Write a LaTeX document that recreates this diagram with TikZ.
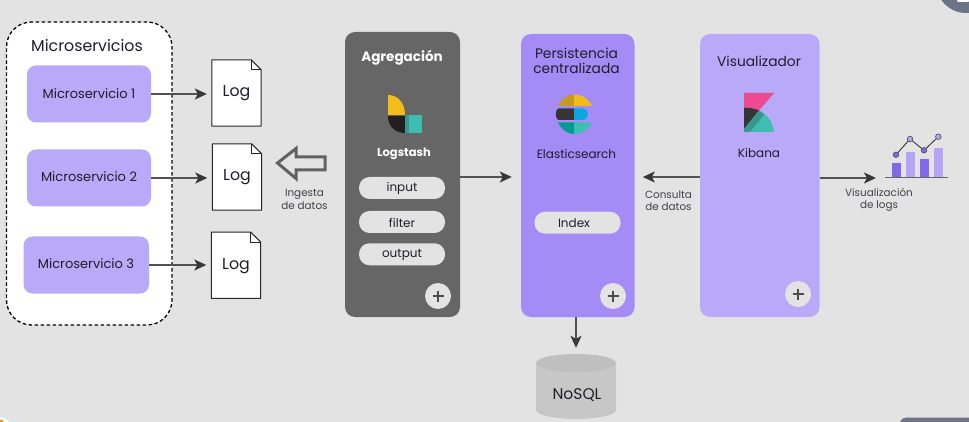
\documentclass[tikz,border=0pt]{standalone}
\usepackage{fontspec}
\setmainfont{Poppins}
\usetikzlibrary{arrows.meta,calc}
\definecolor{bgc}{HTML}{E3E3E3}
\definecolor{lav}{HTML}{B9A9F9}
\definecolor{pur}{HTML}{A48BF6}
\definecolor{gr}{HTML}{666666}
\definecolor{ink}{HTML}{1E1E2A}
\definecolor{ylw}{HTML}{F3BD19}
\definecolor{ylwd}{HTML}{C69A24}
\definecolor{tl}{HTML}{3EBEB0}
\definecolor{tld}{HTML}{37978C}
\definecolor{tlx}{HTML}{019B8F}
\definecolor{blk}{HTML}{231F20}
\definecolor{dk}{HTML}{353535}
\definecolor{blu}{HTML}{0DA6E0}
\definecolor{pnk}{HTML}{EE4A8F}
\definecolor{barD}{HTML}{7F69E8}
\definecolor{barL}{HTML}{B3A5F3}
\definecolor{slate}{HTML}{6D7488}
\tikzset{
  box/.style={rectangle,inner sep=0pt,text=ink},
  svc/.style={box,fill=lav,rounded corners=9pt,minimum width=124pt,minimum height=57pt},
  panel/.style={box,rounded corners=10pt,minimum height=283pt},
  pill/.style={box,fill=bgc,rounded corners=10.5pt,minimum width=86pt,minimum height=22pt},
  plusbtn/.style={circle,fill=bgc,inner sep=0pt,minimum size=26pt},
  lbl/.style={inner sep=0pt,text=ink,align=center,yshift=-0.5pt},
  t16/.style={lbl,font=\fontsize{15.8}{17}\selectfont},
  t14/.style={lbl,font=\fontsize{13.8}{15.2}\selectfont},
  t13/.style={lbl,font=\fontsize{13}{14}\selectfont},
  t12/.style={lbl,font=\fontsize{12}{14}\selectfont},
  t10/.style={lbl,text=ink!85,font=\fontsize{10.4}{12.2}\selectfont},
  flow/.style={draw=black!68,line width=1.7pt,-{Stealth[length=12pt,width=11pt,inset=3pt,color=black!78]}},
}
\newcommand{\logdoc}[3]{%
  \node[box,minimum width=49pt,minimum height=66pt] (#1) at (#2,#3) {};
  \fill[white] (#1.north west) -- ($(#1.north east)+(-10,0)$) -- ($(#1.north east)+(0,10)$) -- (#1.south east) -- (#1.south west) -- cycle;
  \draw[black!85,line width=1pt,line join=round] (#1.north west) -- ($(#1.north east)+(-10,0)$) -- ($(#1.north east)+(0,10)$) -- (#1.south east) -- (#1.south west) -- cycle;
  \draw[black!85,line width=.9pt] ($(#1.north east)+(-10,0)$) -- ($(#1.north east)+(-10,10)$) -- ($(#1.north east)+(0,10)$);
  \node[t16] at (#2,#3) {Log};}
\newcommand{\plusmark}[1]{%
  \draw[black!70,line width=1.4pt] ($(#1)+(-5.5,0)$) -- ($(#1)+(5.5,0)$) ($(#1)+(0,-5.5)$) -- ($(#1)+(0,5.5)$);}
\begin{document}
\begin{tikzpicture}[x=1pt,y=-1pt]
\useasboundingbox (0,0) rectangle (969,422);
\clip (0,0) rectangle (969,422);
\fill[bgc] (0,0) rectangle (969,422);
% stray corner marks
\fill[slate] (966,-17) circle (30);
\fill[white,rounded corners=1pt] (957,-3) rectangle (969,2);
\fill[slate,rounded corners=6pt] (900,417.7) rectangle (975,440);
\fill[white] (0,422) -- (0,417) .. controls (4,417.5) and (7,419) .. (9,422) -- cycle;
\fill[orange!85!yellow] (0,420) rectangle (3,422);
% microservices group
\node[box,fill=white,draw=black,line width=1.3pt,dash pattern=on 3.5pt off 2.5pt,rounded corners=25pt,minimum width=165.5pt,minimum height=303pt] (group) at (89.25,173.5) {};
\node[t16] (gt) at (87,45.5) {Microservicios};
\node[svc] (m1) at (89,94) {};
\node[svc] (m2) at (89,178) {};
\node[svc,minimum width=125.5pt] (m3) at (86.25,265) {};
\node[t13] at (89,93) {Microservicio 1};
\node[t13] at (89,176) {Microservicio 2};
\node[t13] at (86,263.5) {Microservicio 3};
\logdoc{log1}{236.5}{93}
\logdoc{log2}{237}{177}
\logdoc{log3}{236}{265.25}
\draw[flow,shorten >=5pt] (m1.east) -- (m1.east -| log1.west);
\draw[flow,shorten >=5pt] (m2.east) -- (m2.east -| log2.west);
\draw[flow,shorten >=5pt] (m3.east) -- (m3.east -| log3.west);
% hollow ingest arrow
\draw[black!62,line width=3pt,line join=miter] (277.5,163) -- (296,148.5) -- (296,157) -- (325,157) -- (325,170) -- (296,170) -- (296,178.5) -- cycle;
\node[t10] at (304.5,199) {Ingesta\\de datos};
% aggregation
\node[panel,fill=gr,minimum width=115pt,minimum height=285pt] (agg) at (402.5,174.5) {};
\node[lbl,text=white,font=\fontsize{13.5}{15}\selectfont\bfseries] at (402,57) {Agregación};
\fill[ylw] (388,95) .. controls (398,95) and (405,103) .. (405,115) -- (388,115) -- cycle;
\fill[blk] (388,116) -- (405,116) -- (405,133) .. controls (395,133) and (388,126) .. (388,116) -- cycle;
\fill[tl] (405,115) rectangle (422,133);
\fill[tld] (405,115) rectangle (409,133);
\node[lbl,text=white,font=\fontsize{11.5}{13}\selectfont\bfseries] at (404,153) {Logstash};
\node[pill] (pi) at (402,188) {};
\node[pill] (pf) at (402,222) {};
\node[pill] (po) at (402,254.25) {};
\node[t12] at (pi) {input};
\node[t12] at (pf) {filter};
\node[t12] at (po) {output};
\node[plusbtn] (p1) at (438,296) {};
\plusmark{p1}
% persistence
\node[panel,fill=pur,minimum width=113.5pt] (pers) at (577.75,175.5) {};
\node[t14] at (576.5,60.5) {Persistencia\\centralizada};
\fill[ylwd] (558,105.5) .. controls (561,99) and (567,94.5) .. (574,94.5) -- (574,106) -- cycle;
\fill[ylw] (574,94.5) .. controls (582,94.5) and (589,99) .. (592,106) -- (574,106) -- cycle;
\fill[dk] (558,108.5) -- (574,108.5) -- (574,120) -- (558,120) .. controls (555,117) and (555,111.5) .. (558,108.5) -- cycle;
\fill[blu] (574,108.5) -- (582,108.5) .. controls (590,108.5) and (590,120) .. (582,120) -- (574,120) -- cycle;
\fill[tlx] (558,122.5) -- (574,122.5) -- (574,134) .. controls (567,134) and (561,129) .. (558,122.5) -- cycle;
\fill[tl] (574,122.5) -- (592,122.5) .. controls (589,129) and (582,134) .. (574,134) -- cycle;
\node[t12] at (576.5,153) {Elasticsearch};
\node[pill] (ix) at (577.5,222.75) {};
\node[t12] at (574,223) {Index};
\node[plusbtn] (p2) at (613,296) {};
\plusmark{p2}
% visualizer
\node[panel,fill=lav,minimum width=119.5pt] (vis) at (759.75,175.5) {};
\node[t14] at (759,61) {Visualizador};
\fill[pnk] (744,93) -- (774,93) -- (759,110.5) .. controls (755,108.5) and (749,107.5) .. (744,107.5) -- cycle;
\fill[dk] (744,107.5) .. controls (749,107.5) and (755,108.5) .. (759,110.5) -- (744,129) -- cycle;
\fill[tl] (759,110.5) .. controls (768,115) and (773,123) .. (774,132) -- (744,132) -- cycle;
\fill[tld] (759,110.5) -- (764,114.5) -- (750,132) -- (744,132) -- (744,129) -- cycle;
\node[t12] at (759,152) {Kibana};
\node[plusbtn] (p3) at (798,294) {};
\plusmark{p3}
% database
\node[box,minimum width=80pt,minimum height=65pt] (db) at (576,386.5) {};
\fill[black!22] (536,363) -- (536,410) arc[start angle=180,end angle=360,x radius=40,y radius=-9] -- (616,363) -- cycle;
\fill[black!25] (536,363) arc[start angle=180,end angle=540,x radius=40,y radius=9];
\node[lbl,font=\fontsize{15.5}{17}\selectfont] at (577,395) {NoSQL};
% flows
\coordinate (ya) at (0,177);
\draw[flow,shorten >=9pt] (ya -| agg.east) -- (ya -| pers.west);
\draw[flow] (ya -| vis.west) -- ++(-57,0) coordinate (kb);
\coordinate (cb) at (889,178);
\draw[flow,shorten >=13pt] (cb -| vis.east) -- (cb);
\draw[flow,shorten >=6pt] (pers.south -| db.north) -- (db.north);
\node[t10] at (668.5,200.5) {Consulta\\de datos};
\node[t10] at (879,199.5) {Visualización\\de logs};
% chart
\fill[barD] (891.7,163) rectangle (900.7,177.5);
\fill[barL] (905.7,152) rectangle (914.7,177.5);
\fill[barD] (919.7,159) rectangle (928.7,177.5);
\fill[barL] (933.7,148) rectangle (942.7,177.5);
\draw[black!60,line width=1pt] (885,177.5) -- (948,177.5);
\draw[black!85,line width=.8pt] (896,154.7) -- (910,139) -- (924,150.3) -- (938.3,136.7);
\foreach \px/\py/\pc in {896/154.7/barD,910/139/barL,924/150.3/barD,938.3/136.7/barL}
  \draw[black!70,fill=\pc,line width=.6pt] (\px,\py) circle (2.8);
\end{tikzpicture}
\end{document}
